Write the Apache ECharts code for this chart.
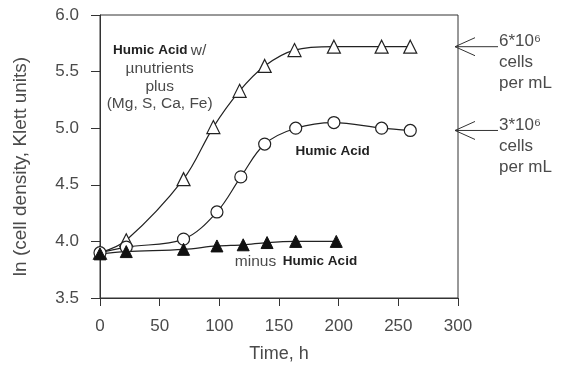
<!DOCTYPE html>
<html>
<head>
<meta charset="utf-8">
<script src="https://cdn.jsdelivr.net/npm/echarts@6/dist/echarts.min.js"></script>
<style>
  html, body { margin: 0; padding: 0; background: #fff; }
  #chart { width: 563px; height: 368px; }
</style>
</head>
<body>
<div id="chart"></div>
<script>
// time (h) and ln(cell density)
var tMicro = [0, 22, 70, 95, 117, 138, 163, 196, 236, 260];
var lnMicro = [3.90, 4.01, 4.55, 5.01, 5.33, 5.55, 5.69, 5.72, 5.72, 5.72];
var tHumic = [0, 22, 70, 98, 118, 138, 164, 196, 236, 260];
var lnHumic = [3.90, 3.95, 4.02, 4.26, 4.57, 4.86, 5.00, 5.05, 5.00, 4.98];
var tMinus = [0, 22, 70, 98, 120, 140, 164, 198];
var lnMinus = [3.89, 3.91, 3.93, 3.96, 3.97, 3.99, 4.00, 4.00];
var arrowLevels = [5.72, 4.98];
var arrowLabels = [['6*10\u2076', 'cells', 'per mL'], ['3*10\u2076', 'cells', 'per mL']];

function pairs(xs, ys) {
  var out = [];
  for (var i = 0; i < xs.length; i++) out.push([xs[i], ys[i]]);
  return out;
}

var font = 'Liberation Sans, Arial, sans-serif';
var ink = '#222';
var grey = '#4a4a4a';

var myChart = echarts.init(document.getElementById('chart'));
var option = {
  animation: false,
  grid: {
    left: 100, right: 105, top: 15, bottom: 68,
    show: true, borderColor: '#333', borderWidth: 1
  },
  xAxis: {
    type: 'value', min: 0, max: 300, interval: 50,
    name: 'Time, h', nameLocation: 'middle', nameGap: 47,
    nameTextStyle: { color: grey, fontSize: 18, fontFamily: font },
    axisLine: { lineStyle: { color: '#333', width: 1 } },
    axisTick: { show: true, length: 8, lineStyle: { color: '#333' } },
    axisLabel: { color: grey, fontSize: 17, fontFamily: font, margin: 20 },
    splitLine: { show: false }
  },
  yAxis: {
    type: 'value', min: 3.5, max: 6.0, interval: 0.5,
    name: 'ln (cell density, Klett units)', nameLocation: 'middle', nameGap: 70,
    nameTextStyle: { color: grey, fontSize: 19, fontFamily: font, padding: [0, 20, 0, 0] },
    axisLine: { show: true, lineStyle: { color: '#333', width: 1 } },
    axisTick: { show: true, length: 9, lineStyle: { color: '#333' } },
    axisLabel: {
      color: grey, fontSize: 17, fontFamily: font, margin: 21,
      formatter: function (v) { return v.toFixed(1); }
    },
    splitLine: { show: false }
  },
  series: [{
    name: 'Humic Acid w/ µnutrients plus', type: 'line', smooth: 0.35,
    data: pairs(tMicro, lnMicro),
    symbol: 'triangle', symbolSize: 13,
    itemStyle: { color: '#fff', borderColor: '#222', borderWidth: 1.2 },
    lineStyle: { color: '#222', width: 1.2 }
  }, {
    name: 'Humic Acid', type: 'line', smooth: 0.35,
    data: pairs(tHumic, lnHumic),
    symbol: 'circle', symbolSize: 12,
    itemStyle: { color: '#fff', borderColor: '#222', borderWidth: 1.2 },
    lineStyle: { color: '#222', width: 1.2 }
  }, {
    name: 'minus Humic Acid', type: 'line', smooth: 0.35,
    data: pairs(tMinus, lnMinus),
    symbol: 'triangle', symbolSize: 12,
    itemStyle: { color: '#111', borderColor: '#111', borderWidth: 1 },
    lineStyle: { color: '#222', width: 1.2 }
  }]
};
myChart.setOption(option);

// annotations anchored to data coordinates
function px(x, y) { return myChart.convertToPixel({ gridIndex: 0 }, [x, y]); }

var g = [];
function label(x, y, text, align) {
  var p = px(x, y);
  g.push({
    type: 'text', x: p[0], y: p[1],
    style: {
      text: text, align: align || 'center', verticalAlign: 'middle',
      rich: {
        b: { fontWeight: 'bold', fontSize: 13.5, fill: ink, fontFamily: font },
        n: { fontSize: 15.5, fill: grey, fontFamily: font }
      }
    }
  });
}
label(50, 5.684, '{b|Humic Acid} {n|w/}');
label(50, 5.526, '{n|\u00b5nutrients}');
label(50, 5.368, '{n|plus}');
label(50, 5.219, '{n|(Mg, S, Ca, Fe)}');
label(195, 4.80, '{b|Humic Acid}');
label(113, 3.82, '{n|minus}  {b|Humic Acid}', 'left');

var right = px(300, 6)[0] - 3;
for (var i = 0; i < arrowLevels.length; i++) {
  var py = px(0, arrowLevels[i])[1];
  g.push({ type: 'line', shape: { x1: right, y1: py, x2: right + 43, y2: py }, style: { stroke: '#333', lineWidth: 1 } });
  g.push({ type: 'polyline', shape: { points: [[right + 20, py - 9], [right, py], [right + 20, py + 9]] }, style: { stroke: '#333', lineWidth: 1, fill: null } });
  g.push({
    type: 'text', x: right + 44, y: py - 16,
    style: { text: arrowLabels[i].join('\n'), fill: grey, font: '17px ' + font, lineHeight: 21, align: 'left', verticalAlign: 'top' }
  });
}
myChart.setOption({ graphic: g });
</script>
</body>
</html>
